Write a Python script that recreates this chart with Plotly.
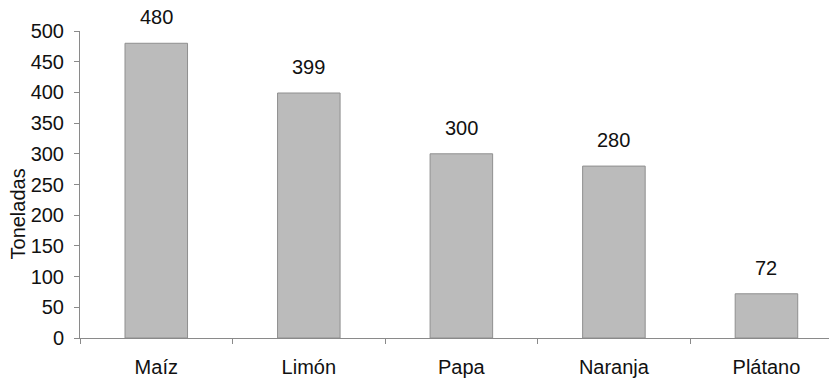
import plotly.graph_objects as go

cultivos = ["Maíz", "Limón", "Papa", "Naranja", "Plátano"]
toneladas = [480, 399, 300, 280, 72]
y_ticks = [0, 50, 100, 150, 200, 250, 300, 350, 400, 450, 500]

font_family = "Liberation Sans, Arial, sans-serif"
FS = 20

fig = go.Figure(
    go.Bar(
        x=cultivos,
        y=toneladas,
        width=0.41,
        marker=dict(color="#bbbbbb", line=dict(color="#8f8f8f", width=1)),
        hoverinfo="skip",
    )
)

# value labels above each bar
for c, v in zip(cultivos, toneladas):
    fig.add_annotation(
        x=c, y=v, text=str(v), showarrow=False,
        yanchor="bottom", yshift=13,
        font=dict(family=font_family, size=FS, color="#111111"),
    )

# y-axis title, set a little below the axis midpoint
fig.add_annotation(
    text="Toneladas", textangle=-90, showarrow=False,
    xref="paper", yref="paper", x=-0.083, y=0.405,
    xanchor="center", yanchor="middle",
    font=dict(family=font_family, size=FS, color="#111111"),
)

fig.update_layout(
    width=829, height=383,
    margin=dict(l=80, r=0, t=31, b=45),
    plot_bgcolor="white", paper_bgcolor="white",
    showlegend=False,
    font=dict(family=font_family, size=FS, color="#111111"),
)

fig.update_xaxes(
    type="category",
    range=[-0.5, 4.41],
    showline=True, linecolor="#8a8a8a", linewidth=1,
    showgrid=False, zeroline=False,
    ticks="outside", tickson="boundaries", ticklen=5, tickcolor="#8a8a8a",
    ticklabelstandoff=11,
    tickfont=dict(size=FS),
)

fig.update_yaxes(
    range=[0, 500],
    tickvals=y_ticks,
    showline=True, linecolor="#8a8a8a", linewidth=1,
    showgrid=False, zeroline=False,
    ticks="outside", ticklen=5, tickcolor="#8a8a8a",
    ticklabelstandoff=6,
    tickfont=dict(size=FS),
)

fig.write_html("out.html")
